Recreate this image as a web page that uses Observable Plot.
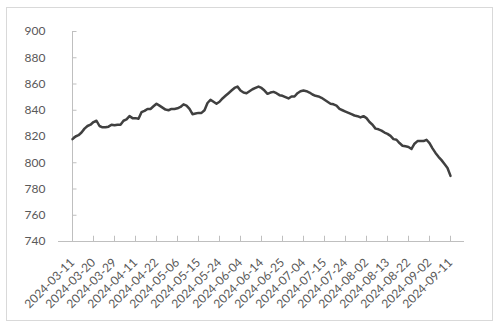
<!DOCTYPE html>
<html>
<head>
<meta charset="utf-8">
<script src="https://cdn.jsdelivr.net/npm/d3@7"></script>
<script src="https://cdn.jsdelivr.net/npm/@observablehq/plot@0.6"></script>
<style>
  html, body { margin: 0; padding: 0; background: #fff; }
  #wrap { position: relative; width: 499px; height: 330px; overflow: hidden; }
  #frame { position: absolute; left: 6px; top: 7px; width: 485px; height: 312px; border: 1px solid #d9d9d9; pointer-events: none; }
</style>
</head>
<body>
<div id="wrap"><div id="chart"></div><div id="frame"></div></div>
<script>
const dates = [
  "2024-03-11","2024-03-12","2024-03-13","2024-03-14","2024-03-15","2024-03-18","2024-03-19","2024-03-20","2024-03-21","2024-03-22","2024-03-25","2024-03-26","2024-03-27","2024-03-28","2024-03-29",
  "2024-04-01","2024-04-02","2024-04-03","2024-04-08","2024-04-09","2024-04-10","2024-04-11","2024-04-12","2024-04-15","2024-04-16","2024-04-17","2024-04-18","2024-04-19","2024-04-22","2024-04-23","2024-04-24","2024-04-25","2024-04-26","2024-04-29","2024-04-30",
  "2024-05-06","2024-05-07","2024-05-08","2024-05-09","2024-05-10","2024-05-13","2024-05-14","2024-05-15","2024-05-16","2024-05-17","2024-05-20","2024-05-21","2024-05-22","2024-05-23","2024-05-24","2024-05-27","2024-05-28","2024-05-29","2024-05-30","2024-05-31",
  "2024-06-03","2024-06-04","2024-06-05","2024-06-06","2024-06-07","2024-06-11","2024-06-12","2024-06-13","2024-06-14","2024-06-17","2024-06-18","2024-06-19","2024-06-20","2024-06-21","2024-06-24","2024-06-25","2024-06-26","2024-06-27","2024-06-28",
  "2024-07-01","2024-07-02","2024-07-03","2024-07-04","2024-07-05","2024-07-08","2024-07-09","2024-07-10","2024-07-11","2024-07-12","2024-07-15","2024-07-16","2024-07-17","2024-07-18","2024-07-19","2024-07-22","2024-07-23","2024-07-24","2024-07-25","2024-07-26","2024-07-29","2024-07-30","2024-07-31",
  "2024-08-01","2024-08-02","2024-08-05","2024-08-06","2024-08-07","2024-08-08","2024-08-09","2024-08-12","2024-08-13","2024-08-14","2024-08-15","2024-08-16","2024-08-19","2024-08-20","2024-08-21","2024-08-22","2024-08-23","2024-08-26","2024-08-27","2024-08-28","2024-08-29","2024-08-30",
  "2024-09-02","2024-09-03","2024-09-04","2024-09-05","2024-09-06","2024-09-09","2024-09-10","2024-09-11"
];
const values = [
  818,820,821,823,826,828,829,831,832,828,827,827,827.5,829,828.5,
  829,829,832,833,835.5,834,834,833.5,838.5,839.5,841,841,843,845,843.5,842,840.5,840,841,841,
  841.5,842.5,844.5,843.5,841,837,837.5,838,838,840,845.5,848,846.5,845,846.5,849,851,853,855,857,
  858,855,853.5,853,854.5,856,857,858,857,855,852.5,853.5,854,853,851.5,851,850,849,850.5,
  850.5,853,854.5,855,854.5,853.5,852,851,850.5,849.5,848,846.5,845,844.5,843.5,841,840,839,838,837,836,835.5,834.5,
  835.5,834,831,829,826,825.5,824.5,823,822,820.5,818,817.5,815,813,812.5,812,810.5,814.5,816.5,816.5,816.5,
  817.5,815,811,807.5,804.5,802,799,796,790
];
const yTicks = [740, 760, 780, 800, 820, 840, 860, 880, 900];
const xTicks = dates.filter((d, i) => i % 7 === 0);

const data = dates.map((d, i) => ({date: d, value: values[i]}));

const axisColor = "#bfbfbf";
const textColor = "#595959";

const chart = Plot.plot({
  width: 499,
  height: 330,
  marginLeft: 58,
  marginRight: 35,
  marginTop: 31,
  marginBottom: 89,
  style: {fontFamily: "Lato, 'Open Sans', sans-serif", fontSize: "12px", color: textColor, background: "transparent"},
  x: {type: "point", domain: dates, padding: 0},
  y: {domain: [740, 900]},
  marks: [
    Plot.axisY({ticks: yTicks, tickSize: 0, tickPadding: 13, tickFormat: d => String(d), fill: textColor, label: null}),
    Plot.axisX({ticks: xTicks, tickSize: 0, tickPadding: 19, tickRotate: -45, fill: textColor, label: null}),
    // inward tick marks
    Plot.ruleY(yTicks, {y: d => d, x1: () => dates[0], x2: () => dates[2], insetRight: 1.5, stroke: axisColor}),
    Plot.ruleX(xTicks, {x: d => d, y1: () => 740, y2: () => 744, stroke: axisColor}),
    Plot.ruleX([dates[0]], {y1: () => 740, y2: () => 900, stroke: axisColor}),
    Plot.ruleY([740], {stroke: axisColor}),
    Plot.line(data, {x: "date", y: "value", stroke: "#404040", strokeWidth: 2.5, strokeLinejoin: "round", strokeLinecap: "round"})
  ]
});
document.getElementById("chart").appendChild(chart);
</script>
</body>
</html>
